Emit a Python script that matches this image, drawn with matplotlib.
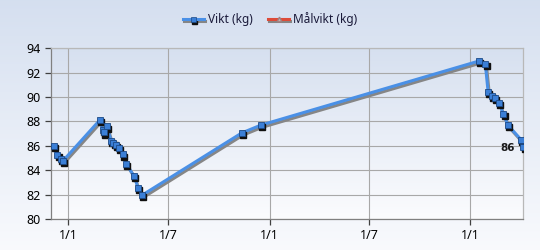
import matplotlib
matplotlib.use("Agg")
import matplotlib.pyplot as plt
from matplotlib.lines import Line2D
from matplotlib.legend_handler import HandlerLine2D, HandlerTuple
from matplotlib.transforms import ScaledTranslation
import numpy as np
import pandas as pd

plt.rcParams["font.family"] = ["Noto Sans", "DejaVu Sans"]

# ---- data ----
dates = [
    "2011-12-06", "2011-12-12", "2011-12-18", "2011-12-22",
    "2012-02-27", "2012-03-04", "2012-03-06", "2012-03-11", "2012-03-19",
    "2012-03-23", "2012-03-28", "2012-04-02", "2012-04-09", "2012-04-15",
    "2012-04-29", "2012-05-07", "2012-05-14",
    "2012-11-11", "2012-12-16",
    "2014-01-16", "2014-01-28", "2014-02-02", "2014-02-09", "2014-02-15",
    "2014-02-22", "2014-03-02", "2014-03-10", "2014-04-03", "2014-04-07",
]
vikt = [
    86.0, 85.25, 84.9, 84.75,
    88.1, 87.3, 87.1, 87.6, 86.4,
    86.25, 86.05, 85.85, 85.3, 84.55,
    83.55, 82.55, 81.95,
    87.05, 87.7,
    92.95, 92.7, 90.45, 90.1, 89.9,
    89.5, 88.6, 87.7, 86.5, 85.9,
]
series_labels = ["Vikt (kg)", "Målvikt (kg)"]
y_ticks = [80, 82, 84, 86, 88, 90, 92, 94]
x_tick_dates = ["2012-01-01", "2012-07-01", "2013-01-01", "2013-07-01", "2014-01-01"]
x_tick_labels = ["1/1", "1/7", "1/1", "1/7", "1/1"]

x = pd.to_datetime(dates)
xt = pd.to_datetime(x_tick_dates)

W, H = 540, 250
fig = plt.figure(figsize=(W / 100, H / 100), dpi=100)

# figure gradient background
bg = fig.add_axes([0, 0, 1, 1], zorder=-10)
grad = np.linspace(0, 1, 256).reshape(-1, 1)
top = np.array([0.835, 0.875, 0.940])
bot = np.array([0.975, 0.980, 0.992])
img = top[None, None, :] * (1 - grad[:, :, None]) + bot[None, None, :] * grad[:, :, None]
bg.imshow(img, aspect="auto", extent=[0, 1, 0, 1])
bg.set_axis_off()

ax = fig.add_axes([50.7 / W, 1 - 219 / H, (523.3 - 50.7) / W, (219 - 48.3) / H])
ax.patch.set_alpha(0)
top2 = np.array([0.840, 0.878, 0.940])
bot2 = np.array([0.985, 0.988, 0.996])
img2 = top2[None, None, :] * (1 - grad[:, :, None]) + bot2[None, None, :] * grad[:, :, None]
ax.imshow(img2, aspect="auto", extent=[0, 1, 0, 1], transform=ax.transAxes, zorder=0)

blue = "#4a90e6"
marker_face = "#3b7fd6"
lw = 2.2
ms = 4.4
shadow_tr = ax.transData + ScaledTranslation(1.2 / 100, -2.2 / 100, fig.dpi_scale_trans)
ax.plot(x, vikt, color="#868686", lw=lw, transform=shadow_tr, zorder=3,
        solid_joinstyle="round", solid_capstyle="round")
ax.plot(x, vikt, color=blue, lw=lw, zorder=4, solid_joinstyle="round",
        solid_capstyle="round")
ax.plot(x, vikt, ls="none", marker="s", ms=ms, mfc="#101010", mec="#101010",
        transform=shadow_tr, zorder=5)
ax.plot(x, vikt, ls="none", marker="s", ms=ms, mfc=marker_face,
        mec="#1d4a86", mew=0.6, zorder=6)

ax.annotate(f"{vikt[-1]:.0f}", (x[-1], vikt[-1]), xytext=(-6, -1),
            textcoords="offset points", ha="right", va="center",
            fontsize=7.5, fontweight="bold", family="DejaVu Sans",
            color="#1a1a1a", zorder=7)

ax.set_ylim(80, 94)
ax.set_xlim(pd.Timestamp("2011-11-30"), x[-1])
ax.set_yticks(y_ticks)
ax.set_xticks(xt)
ax.set_xticklabels(x_tick_labels)
ax.grid(True, color="#a8a8a8", lw=0.8, zorder=1)
ax.set_axisbelow(True)
for s in ["top", "right"]:
    ax.spines[s].set_color("#b8b8b8")
for s in ["left", "bottom"]:
    ax.spines[s].set_color("#808080")
for sp in ax.spines.values():
    sp.set_linewidth(0.9)
ax.tick_params(axis="both", labelsize=9, colors="#000000", length=4, width=0.9,
               direction="out", pad=3)
ax.tick_params(axis="both", color="#404040")


class ShadowHandler(HandlerLine2D):
    def create_artists(self, legend, orig_handle, xdescent, ydescent,
                       width, height, fontsize, trans):
        arts = super().create_artists(legend, orig_handle, xdescent, ydescent,
                                      width, height, fontsize, trans)
        off = trans + ScaledTranslation(1.2 / 100, -2.2 / 100, fig.dpi_scale_trans)
        for a in arts:
            a.set_transform(off)
        return arts


# legend
h1s = Line2D([], [], color="#868686", lw=lw, marker="s", ms=3.6, mfc="#101010", mec="#101010")
h1 = Line2D([], [], color=blue, lw=lw, marker="s", ms=3.6, mfc=marker_face, mec="#1d4a86", mew=0.5)
h2s = Line2D([], [], color="#868686", lw=lw)
h2 = Line2D([], [], color="#dd4b39", lw=lw, marker="^", ms=3.4, mfc="#c8b0b0", mec="#a08080")
leg = fig.legend([(h1s, h1), (h2s, h2)], series_labels,
                 handler_map={tuple: HandlerTuple(ndivide=1, pad=0),
                              h1s: ShadowHandler(), h2s: ShadowHandler()},
                 loc="center", bbox_to_anchor=(0.5, 1 - 19 / H), ncol=2,
                 frameon=False, fontsize=8.5, handlelength=1.8, handletextpad=0.35,
                 columnspacing=1.3)
for t in leg.get_texts():
    t.set_color("#1a1a3a")

fig.savefig("out.png", dpi=100)
